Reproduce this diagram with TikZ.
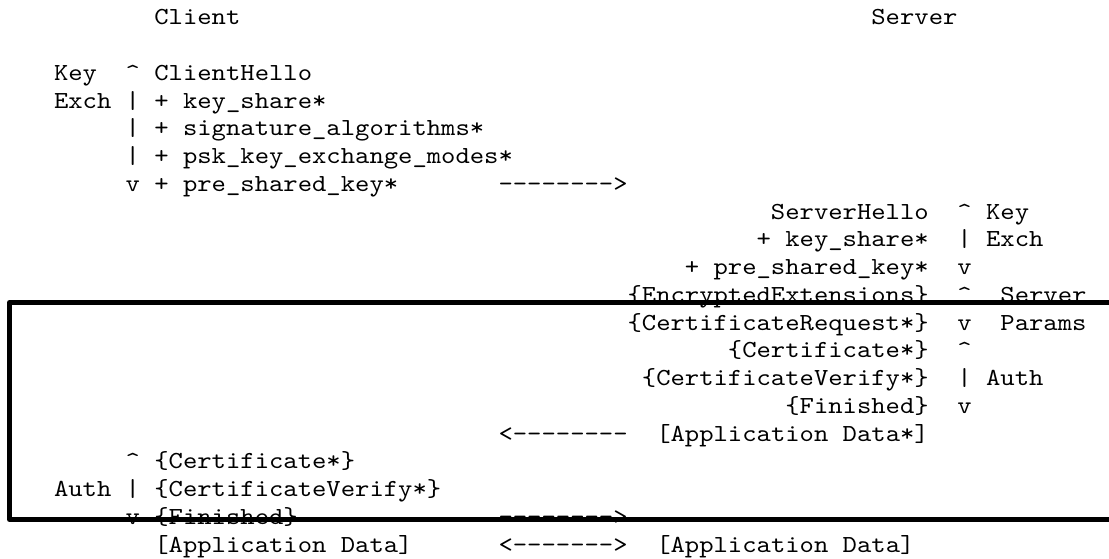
\documentclass[tikz,border=0pt]{standalone}
\usepackage{fontspec}
\usepackage{graphicx}
\newfontfamily\monofam[Ligatures=TeXOff]{lmmono10-regular.otf}
\tikzset{
  txt/.style={font=\monofam\fontsize{24.5}{27.74}\selectfont, inner sep=0pt, outer sep=0pt, text=black},
  frame/.style={draw=black, line width=5pt, line join=round}
}
\newcommand\W[1]{\scalebox{1.115}[1]{#1}}
% #1 name, #2 row, #3 column, #4 text (left aligned)
\newcommand\Lt[4]{\node[txt, anchor=base west] (#1) at ({54+#3*14.34}, {25+(#2-1)*27.74}) {\W{#4}};}
% right aligned: #3 = column after last character
\newcommand\Rt[4]{\node[txt, anchor=base east] (#1) at ({54+#3*14.34}, {25+(#2-1)*27.74}) {\W{#4}};}
\begin{document}
\begin{tikzpicture}[x=1pt, y=-1pt]
\useasboundingbox (0,0) rectangle (1109,559);
\fill[white] (0,0) rectangle (1109,559);
% headings
\Lt{client}{1}{7}{Client}
\Lt{server}{1}{57}{Server}
% client hello
\Lt{ckey}{3}{0}{Key}
\Lt{cup1}{3}{5}{\textasciicircum}
\Lt{ch}{3}{7}{ClientHello}
\Lt{cexch}{4}{0}{Exch}
\Lt{cbar1}{4}{5}{|}
\Lt{cks}{4}{7}{+ key\_share*}
\Lt{cbar2}{5}{5}{|}
\Lt{csa}{5}{7}{+ signature\_algorithms*}
\Lt{cbar3}{6}{5}{|}
\Lt{cpsk}{6}{7}{+ psk\_key\_exchange\_modes*}
\Lt{cdn1}{7}{5}{v}
\Lt{cpre}{7}{7}{+ pre\_shared\_key*}
\Lt{arr1}{7}{31}{-------->}
% server
\Rt{sh}{8}{61}{ServerHello}
\Lt{sup1}{8}{63}{\textasciicircum}
\Lt{skey}{8}{65}{Key}
\Rt{sks}{9}{61}{+ key\_share*}
\Lt{sbar1}{9}{63}{|}
\Lt{sexch}{9}{65}{Exch}
\Rt{spre}{10}{61}{+ pre\_shared\_key*}
\Lt{sdn1}{10}{63}{v}
\Rt{ee}{11}{61}{\{EncryptedExtensions\}}
\Lt{sup2}{11}{63}{\textasciicircum}
\Lt{sserver}{11}{66}{Server}
\Rt{cr}{12}{61}{\{CertificateRequest*\}}
\Lt{sdn2}{12}{63}{v}
\Lt{sparams}{12}{66}{Params}
\Rt{scert}{13}{61}{\{Certificate*\}}
\Lt{sup3}{13}{63}{\textasciicircum}
\Rt{scv}{14}{61}{\{CertificateVerify*\}}
\Lt{sbar2}{14}{63}{|}
\Lt{sauth}{14}{65}{Auth}
\Rt{sfin}{15}{61}{\{Finished\}}
\Lt{sdn3}{15}{63}{v}
\Lt{arr2}{16}{31}{<--------}
\Lt{sapp}{16}{42}{[Application Data*]}
% client auth
\Lt{cup2}{17}{5}{\textasciicircum}
\Lt{ccert}{17}{7}{\{Certificate*\}}
\Lt{cauth}{18}{0}{Auth}
\Lt{cbar4}{18}{5}{|}
\Lt{ccv}{18}{7}{\{CertificateVerify*\}}
\Lt{cdn2}{19}{5}{v}
\Lt{cfin}{19}{7}{\{Finished\}}
\Lt{arr3}{19}{31}{-------->}
% application data
\Lt{capp}{20}{7}{[Application Data]}
\Lt{arr4}{20}{31}{<------->}
\Lt{sapp2}{20}{42}{[Application Data]}
% highlight frame
\draw[frame] (1130,302.5) -- (9.5,302.5) -- (9.5,519.5) -- (1130,519.5);
\end{tikzpicture}
\end{document}
